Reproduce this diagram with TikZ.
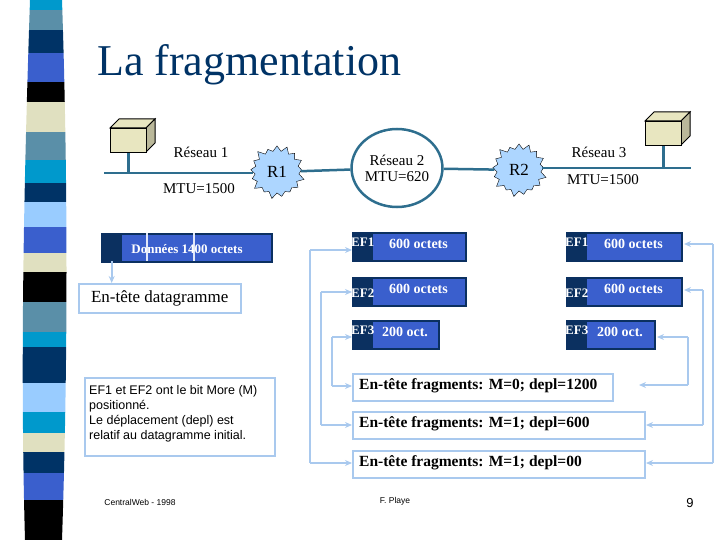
\documentclass[tikz,border=0pt]{standalone}
\usepackage{fontspec}
\setmainfont{Liberation Serif}
\newfontfamily\arialf{Liberation Sans}
\usetikzlibrary{shapes.symbols,shapes.geometric,arrows.meta}
\definecolor{cyanb}{HTML}{0099CC}
\definecolor{steel}{HTML}{5A8FA8}
\definecolor{navy}{HTML}{003366}
\definecolor{royal}{HTML}{3A5FCD}
\definecolor{beige}{HTML}{E0E0C0}
\definecolor{lblue}{HTML}{99CCFF}
\definecolor{arr}{HTML}{A9C9EE}
\definecolor{netc}{HTML}{2E6E8E}
\definecolor{hostc}{HTML}{E8E6C0}
\definecolor{hdr}{HTML}{0B3060}
\tikzset{
  netline/.style={line width=2.5pt,color=netc},
  router/.style={starburst,starburst points=17,starburst point height=7pt,fill=lblue!80,draw=black,minimum width=58pt,minimum height=56pt,inner sep=4pt,font=\fontsize{17}{19}\selectfont},
  lbl/.style={font=\fontsize{15}{17}\selectfont,inner sep=0pt},
  pkt/.style={fill=royal,draw=hdr,line width=1.5pt,inner sep=0pt,anchor=north west},
  hd/.style={fill=hdr,inner sep=0pt,anchor=north west},
  wt/.style={text=white,font=\bfseries\fontsize{14}{16}\selectfont,inner sep=0pt},
  hdt/.style={text=white,font=\bfseries\fontsize{13}{15}\selectfont,inner sep=0pt},
  frag/.style={draw=arr,line width=1.5pt,anchor=north west,inner sep=0pt},
  fragt/.style={font=\bfseries\fontsize{15.5}{17}\selectfont,inner sep=0pt,anchor=west},
  conn/.style={arr,line width=1.8pt,-{Stealth[length=7pt,width=6pt]}},
}
\begin{document}
\begin{tikzpicture}[x=1pt,y=-1pt]
\useasboundingbox (0,0) rectangle (720,540);
% stripe
\begin{scope}
\clip (30,0) .. controls (24,180) and (20,360) .. (25,540) -- (62,540) .. controls (68,360) and (68,180) .. (62,0) -- cycle;
\foreach \a/\b/\c in {0/10/cyanb,10/30/steel,30/53/navy,53/82/royal,82/102/black,102/132/beige,132/160/steel,160/183/cyanb,183/202/navy,202/227/lblue,227/253/royal,253/272/beige,272/302/black,302/332/steel,332/347/cyanb,347/383/navy,383/412/lblue,412/433/cyanb,433/452/beige,452/473/navy,473/500/royal,500/540/black}
  \fill[\c] (0,\a) rectangle (80,\b);
\end{scope}
\node[anchor=west,font=\fontsize{44}{48}\selectfont,inner sep=0pt,text=navy] (title) at (97,65) {La fragmentation};
% network
\coordinate (l1a) at (104,173);
\coordinate (l3b) at (691,168);
\node[router] (r1) at (277,172) {R1};
\node[router] (r2) at (519,170) {R2};
\node[ellipse,draw=netc,line width=2.5pt,minimum width=86pt,minimum height=78pt,inner sep=0pt,align=center,font=\fontsize{15}{16}\selectfont] (n2) at (397,168) {Réseau 2\\MTU=620};
\draw[netline] (l1a) -- (r1.west |- l1a);
\draw[netline] (r1) -- (n2);
\draw[netline] (n2) -- (r2);
\draw[netline] (r2.east |- l3b) -- (l3b);
% hosts
\foreach \n/\x/\y in {h1/110/128,h3/645/121}{
  \fill[hostc,draw=black,line width=1pt] (\x,\y) -- ++(9,-9) -- ++(36,0) -- ++(-9,9) -- cycle;
  \fill[hostc!80!black,draw=black,line width=1pt] (\x+36,\y) -- ++(9,-9) -- ++(0,24) -- ++(-9,9) -- cycle;
  \node[fill=hostc,draw=black,line width=1pt,minimum width=36pt,minimum height=24pt,anchor=north west,inner sep=0pt] (\n) at (\x,\y) {};
}
\draw[netline] (h1.south) -- (h1.south |- l1a);
\draw[netline] (h3.south) -- (h3.south |- l3b);
\node[lbl] (t1) at (201,152) {Réseau 1};
\node[lbl] (m1) at (199,189) {MTU=1500};
\node[lbl] (t3) at (599,152) {Réseau 3};
\node[lbl] (m3) at (603,180) {MTU=1500};
% data packet
\node[pkt,minimum width=170pt,minimum height=28pt] (data) at (101,233) {};
\node[hd,minimum width=20pt,minimum height=27pt] (datah) at (101.5,233.5) {};
\draw[white!85!royal,line width=1.5pt] (147,233) -- (147,261) (194,233) -- (194,261);
\node[wt,font=\bfseries\fontsize{13}{15}\selectfont] at (187,249) {Données 1400 octets};
\node[draw=arr,line width=1.5pt,minimum width=162pt,minimum height=29pt,anchor=north west,inner sep=0pt,font=\fontsize{17}{19}\selectfont] (edg) at (78,283) {En-tête datagramme};
\draw[conn] (datah.south) -- (datah.south |- edg.north);
% fragments
\foreach \n/\x/\y/\w/\t in {a1/352/232/113/600 octets,a2/352/277/113/600 octets,a3/352/320/86/200 oct.,b1/566/232/115/600 octets,b2/566/277/115/600 octets,b3/566/320/88/200 oct.}{
  \node[pkt,minimum width=\w pt,minimum height=28pt] (\n) at (\x,\y) {};
  \node[hd,minimum width=20pt,minimum height=27pt] (\n h) at (\x+0.5,\y+0.5) {};
  \node[wt] at (\x+10+\w/2,\y+12) {\t};
}
\foreach \n/\t/\dy in {a1/EF1/10,a2/EF2/16,a3/EF3/10,b1/EF1/10,b2/EF2/16,b3/EF3/10}
  \node[hdt] at ([yshift=-\dy pt]\n h.north) {\t};
\node[frag,minimum width=260pt,minimum height=27pt] (f1) at (352,373) {};
\node[frag,minimum width=292pt,minimum height=27pt] (f2) at (352,411) {};
\node[frag,minimum width=292pt,minimum height=27pt] (f3) at (352,450) {};
\node[fragt] at (359,386) {En-tête fragments: M=0; depl=1200};
\node[fragt] at (359,424) {En-tête fragments: M=1; depl=600};
\node[fragt] at (359,463) {En-tête fragments: M=1; depl=00};
% left connectors
\draw[arr,line width=1.8pt] (310,250) -- (310,463);
\draw[conn] (310,250) -- (a1.west |- 0,250);
\draw[conn] (310,463) -- (f3.west |- 0,463);
\draw[arr,line width=1.8pt] (321,292) -- (321,425);
\draw[conn] (321,292) -- (a2.west |- 0,292);
\draw[conn] (321,425) -- (f2.west |- 0,425);
\draw[arr,line width=1.8pt] (332,337) -- (332,386);
\draw[conn] (332,337) -- (a3.west |- 0,337);
\draw[conn] (332,386) -- (f1.west |- 0,386);
% right connectors
\draw[arr,line width=1.8pt] (713,244) -- (713,463);
\draw[conn] (713,244) -- (684,244);
\draw[conn] (713,463) -- (646,463);
\draw[arr,line width=1.8pt] (703,290) -- (703,425);
\draw[conn] (703,290) -- (684,290);
\draw[conn] (703,425) -- (646,425);
\draw[arr,line width=1.8pt] (688,337) -- (688,385);
\draw[conn] (688,337) -- (657,337);
\draw[conn] (688,385) -- (639,385);
% info
\node[draw=arr,line width=1.5pt,minimum width=190pt,minimum height=78pt,anchor=north west,inner sep=0pt] (info) at (84,377) {};
\node[anchor=north west,align=left,font=\arialf\fontsize{12.5}{15}\selectfont,inner sep=0pt] at (89,385) {EF1 et EF2 ont le bit More (M)\\positionné.\\Le déplacement (depl) est\\relatif au datagramme initial.};
\node[font=\arialf\fontsize{8.5}{10}\selectfont,inner sep=0pt] (ft1) at (140,502) {CentralWeb - 1998};
\node[font=\arialf\fontsize{8.5}{10}\selectfont,inner sep=0pt] (ft2) at (395,501) {F. Playe};
\node[font=\arialf\fontsize{13}{15}\selectfont,inner sep=0pt] (ft3) at (690,503) {9};
\end{tikzpicture}
\end{document}
